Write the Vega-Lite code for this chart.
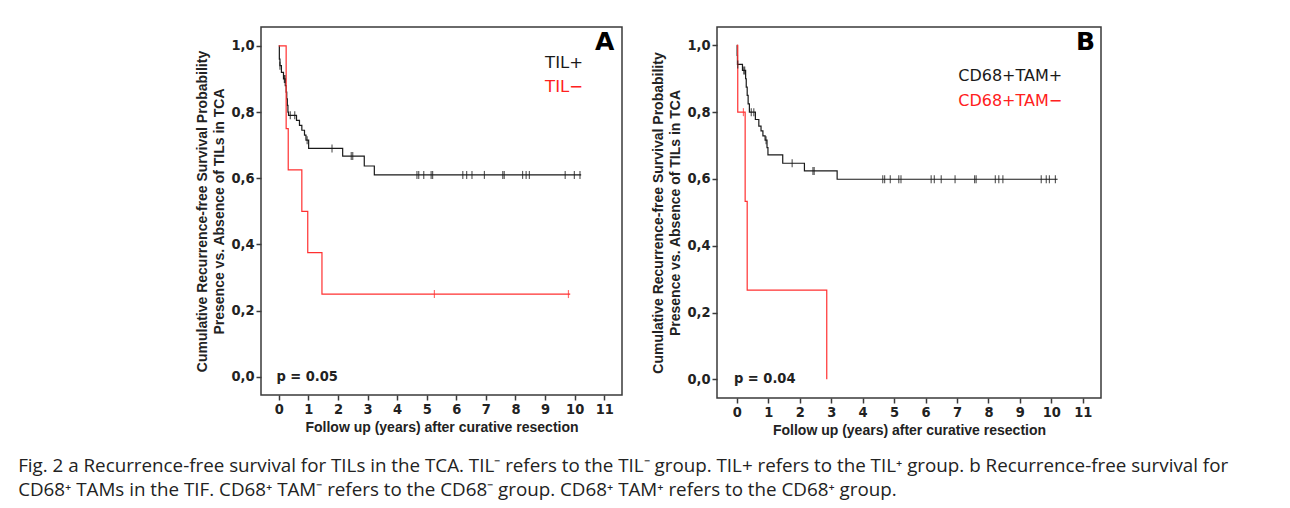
{
  "$schema": "https://vega.github.io/schema/vega-lite/v6.json",
  "background": "white",
  "padding": {"left": 18, "top": 26, "right": 0, "bottom": 0},
  "spacing": 28,
  "title": {
    "text": [
      "Fig. 2 a Recurrence-free survival for TILs in the TCA. TIL⁻ refers to the TIL⁻ group. TIL+ refers to the TIL⁺ group. b Recurrence-free survival for",
      "CD68⁺ TAMs in the TIF. CD68⁺ TAM⁻ refers to the CD68⁻ group. CD68⁺ TAM⁺ refers to the CD68⁺ group."
    ],
    "orient": "bottom",
    "anchor": "start",
    "frame": "bounds",
    "font": "Open Sans",
    "fontSize": 18.8,
    "fontWeight": "normal",
    "color": "#222222",
    "lineHeight": 24,
    "offset": 19,
    "dx": -177
  },
  "datasets": {
    "a_curve": [
      {"group": "TIL+", "t": 0, "s": 1.0},
      {"group": "TIL+", "t": 0.02, "s": 0.96},
      {"group": "TIL+", "t": 0.04, "s": 0.94},
      {"group": "TIL+", "t": 0.09, "s": 0.92},
      {"group": "TIL+", "t": 0.16, "s": 0.9},
      {"group": "TIL+", "t": 0.22, "s": 0.88},
      {"group": "TIL+", "t": 0.25, "s": 0.86},
      {"group": "TIL+", "t": 0.27, "s": 0.84},
      {"group": "TIL+", "t": 0.29, "s": 0.82},
      {"group": "TIL+", "t": 0.31, "s": 0.8},
      {"group": "TIL+", "t": 0.33, "s": 0.79},
      {"group": "TIL+", "t": 0.6, "s": 0.775},
      {"group": "TIL+", "t": 0.7, "s": 0.76},
      {"group": "TIL+", "t": 0.78, "s": 0.745},
      {"group": "TIL+", "t": 0.87, "s": 0.73},
      {"group": "TIL+", "t": 0.92, "s": 0.715},
      {"group": "TIL+", "t": 1.01, "s": 0.69},
      {"group": "TIL+", "t": 2.16, "s": 0.667},
      {"group": "TIL+", "t": 2.89, "s": 0.637},
      {"group": "TIL+", "t": 3.23, "s": 0.61},
      {"group": "TIL+", "t": 10.22, "s": 0.61},
      {"group": "TIL−", "t": 0, "s": 1.0},
      {"group": "TIL−", "t": 0.25, "s": 0.75},
      {"group": "TIL−", "t": 0.32, "s": 0.625},
      {"group": "TIL−", "t": 0.78, "s": 0.5},
      {"group": "TIL−", "t": 0.98, "s": 0.375},
      {"group": "TIL−", "t": 1.46, "s": 0.25},
      {"group": "TIL−", "t": 9.85, "s": 0.25}
    ],
    "a_censor": [
      {"group": "TIL+", "t": 0.04, "s": 0.94},
      {"group": "TIL+", "t": 0.19, "s": 0.9},
      {"group": "TIL+", "t": 0.21, "s": 0.9},
      {"group": "TIL+", "t": 0.39, "s": 0.79},
      {"group": "TIL+", "t": 0.54, "s": 0.79},
      {"group": "TIL+", "t": 0.96, "s": 0.715},
      {"group": "TIL+", "t": 1.8, "s": 0.69},
      {"group": "TIL+", "t": 2.45, "s": 0.667},
      {"group": "TIL+", "t": 2.5, "s": 0.667},
      {"group": "TIL+", "t": 4.67, "s": 0.61},
      {"group": "TIL+", "t": 4.73, "s": 0.61},
      {"group": "TIL+", "t": 4.9, "s": 0.61},
      {"group": "TIL+", "t": 5.15, "s": 0.61},
      {"group": "TIL+", "t": 5.2, "s": 0.61},
      {"group": "TIL+", "t": 6.22, "s": 0.61},
      {"group": "TIL+", "t": 6.35, "s": 0.61},
      {"group": "TIL+", "t": 6.53, "s": 0.61},
      {"group": "TIL+", "t": 6.95, "s": 0.61},
      {"group": "TIL+", "t": 7.57, "s": 0.61},
      {"group": "TIL+", "t": 7.62, "s": 0.61},
      {"group": "TIL+", "t": 8.24, "s": 0.61},
      {"group": "TIL+", "t": 8.36, "s": 0.61},
      {"group": "TIL+", "t": 8.47, "s": 0.61},
      {"group": "TIL+", "t": 9.68, "s": 0.61},
      {"group": "TIL+", "t": 9.99, "s": 0.61},
      {"group": "TIL+", "t": 10.18, "s": 0.61},
      {"group": "TIL−", "t": 5.26, "s": 0.25},
      {"group": "TIL−", "t": 9.79, "s": 0.25}
    ],
    "b_curve": [
      {"group": "CD68+TAM+", "t": 0, "s": 1.0},
      {"group": "CD68+TAM+", "t": 0.01, "s": 0.97},
      {"group": "CD68+TAM+", "t": 0.02, "s": 0.943},
      {"group": "CD68+TAM+", "t": 0.18, "s": 0.925},
      {"group": "CD68+TAM+", "t": 0.28, "s": 0.9},
      {"group": "CD68+TAM+", "t": 0.3, "s": 0.875},
      {"group": "CD68+TAM+", "t": 0.33, "s": 0.85},
      {"group": "CD68+TAM+", "t": 0.36, "s": 0.825},
      {"group": "CD68+TAM+", "t": 0.4, "s": 0.8},
      {"group": "CD68+TAM+", "t": 0.59, "s": 0.778},
      {"group": "CD68+TAM+", "t": 0.7, "s": 0.758},
      {"group": "CD68+TAM+", "t": 0.77, "s": 0.744},
      {"group": "CD68+TAM+", "t": 0.83, "s": 0.729},
      {"group": "CD68+TAM+", "t": 0.9, "s": 0.716},
      {"group": "CD68+TAM+", "t": 0.96, "s": 0.694},
      {"group": "CD68+TAM+", "t": 0.99, "s": 0.672},
      {"group": "CD68+TAM+", "t": 1.46, "s": 0.647},
      {"group": "CD68+TAM+", "t": 2.15, "s": 0.624},
      {"group": "CD68+TAM+", "t": 3.19, "s": 0.599},
      {"group": "CD68+TAM+", "t": 10.2, "s": 0.599},
      {"group": "CD68+TAM−", "t": 0, "s": 1.0},
      {"group": "CD68+TAM−", "t": 0.03, "s": 0.8},
      {"group": "CD68+TAM−", "t": 0.265, "s": 0.533},
      {"group": "CD68+TAM−", "t": 0.33, "s": 0.267},
      {"group": "CD68+TAM−", "t": 2.86, "s": 0.0}
    ],
    "b_censor": [
      {"group": "CD68+TAM+", "t": 0.03, "s": 0.943},
      {"group": "CD68+TAM+", "t": 0.22, "s": 0.925},
      {"group": "CD68+TAM+", "t": 0.25, "s": 0.925},
      {"group": "CD68+TAM+", "t": 0.46, "s": 0.8},
      {"group": "CD68+TAM+", "t": 0.54, "s": 0.8},
      {"group": "CD68+TAM+", "t": 0.93, "s": 0.716},
      {"group": "CD68+TAM+", "t": 1.76, "s": 0.647},
      {"group": "CD68+TAM+", "t": 2.42, "s": 0.624},
      {"group": "CD68+TAM+", "t": 2.46, "s": 0.624},
      {"group": "CD68+TAM+", "t": 4.64, "s": 0.599},
      {"group": "CD68+TAM+", "t": 4.7, "s": 0.599},
      {"group": "CD68+TAM+", "t": 4.88, "s": 0.599},
      {"group": "CD68+TAM+", "t": 5.15, "s": 0.599},
      {"group": "CD68+TAM+", "t": 5.22, "s": 0.599},
      {"group": "CD68+TAM+", "t": 6.18, "s": 0.599},
      {"group": "CD68+TAM+", "t": 6.28, "s": 0.599},
      {"group": "CD68+TAM+", "t": 6.5, "s": 0.599},
      {"group": "CD68+TAM+", "t": 6.94, "s": 0.599},
      {"group": "CD68+TAM+", "t": 7.56, "s": 0.599},
      {"group": "CD68+TAM+", "t": 7.61, "s": 0.599},
      {"group": "CD68+TAM+", "t": 8.22, "s": 0.599},
      {"group": "CD68+TAM+", "t": 8.33, "s": 0.599},
      {"group": "CD68+TAM+", "t": 8.46, "s": 0.599},
      {"group": "CD68+TAM+", "t": 9.68, "s": 0.599},
      {"group": "CD68+TAM+", "t": 9.84, "s": 0.599},
      {"group": "CD68+TAM+", "t": 9.94, "s": 0.599},
      {"group": "CD68+TAM+", "t": 10.13, "s": 0.599},
      {"group": "CD68+TAM−", "t": 0.21, "s": 0.8}
    ]
  },
  "resolve": {"scale": {"color": "independent"}},
  "hconcat": [
    {
      "width": 361,
      "height": 368,
      "layer": [
        {
          "data": {"name": "a_curve"},
          "mark": {"type": "line", "interpolate": "step-after", "strokeWidth": 1.2},
          "encoding": {
            "x": {"field": "t", "type": "quantitative", "scale": {"domain": [-0.6, 11.6], "nice": false, "zero": false},
                  "axis": {"values": [0, 1, 2, 3, 4, 5, 6, 7, 8, 9, 10, 11], "title": "Follow up (years) after curative resection"}},
            "y": {"field": "s", "type": "quantitative", "scale": {"domain": [-0.055, 1.057], "nice": false, "zero": false},
                  "axis": {"values": [0, 0.2, 0.4, 0.6, 0.8, 1.0], "labelExpr": "replace(format(datum.value, '.1f'), '.', ',')",
                           "title": ["Cumulative Recurrence-free Survival Probability", "Presence vs. Absence of TILs in TCA"]}},
            "color": {"field": "group", "type": "nominal", "scale": {"domain": ["TIL+", "TIL−"], "range": ["#1a1a1a", "#ff3030"]}, "legend": null}
          }
        },
        {
          "data": {"name": "a_censor"},
          "mark": {"type": "tick", "orient": "vertical", "size": 8, "thickness": 1.2},
          "encoding": {
            "x": {"field": "t", "type": "quantitative",
                  "axis": {"values": [0, 1, 2, 3, 4, 5, 6, 7, 8, 9, 10, 11], "title": "Follow up (years) after curative resection"}},
            "y": {"field": "s", "type": "quantitative",
                  "axis": {"values": [0, 0.2, 0.4, 0.6, 0.8, 1.0], "labelExpr": "replace(format(datum.value, '.1f'), '.', ',')",
                           "title": ["Cumulative Recurrence-free Survival Probability", "Presence vs. Absence of TILs in TCA"]}},
            "color": {"field": "group", "type": "nominal", "scale": {"domain": ["TIL+", "TIL−"], "range": ["#1a1a1a", "#ff3030"]}, "legend": null}
          }
        },
        {
          "data": {"values": [{"label": "TIL+"}, {"label": "TIL−"}, {"label": "A"}, {"label": "p = 0.05"}]},
          "transform": [{"filter": "datum.label === 'TIL+'"}],
          "mark": {"type": "text", "align": "left", "baseline": "middle", "font": "DejaVu Sans", "fontSize": 16.5, "color": "#1a1a1a"},
          "encoding": {
            "text": {"field": "label"},
            "x": {"datum": 9.0, "type": "quantitative", "axis": {"values": [0, 1, 2, 3, 4, 5, 6, 7, 8, 9, 10, 11], "title": "Follow up (years) after curative resection"}},
            "y": {"datum": 0.949, "type": "quantitative", "axis": {"values": [0, 0.2, 0.4, 0.6, 0.8, 1.0], "labelExpr": "replace(format(datum.value, '.1f'), '.', ',')", "title": ["Cumulative Recurrence-free Survival Probability", "Presence vs. Absence of TILs in TCA"]}}
          }
        },
        {
          "data": {"values": [{"label": "TIL−"}]},
          "mark": {"type": "text", "align": "left", "baseline": "middle", "font": "DejaVu Sans", "fontSize": 16.5, "color": "#ff2020"},
          "encoding": {
            "text": {"field": "label"},
            "x": {"datum": 9.0, "type": "quantitative", "axis": {"values": [0, 1, 2, 3, 4, 5, 6, 7, 8, 9, 10, 11], "title": "Follow up (years) after curative resection"}},
            "y": {"datum": 0.876, "type": "quantitative", "axis": {"values": [0, 0.2, 0.4, 0.6, 0.8, 1.0], "labelExpr": "replace(format(datum.value, '.1f'), '.', ',')", "title": ["Cumulative Recurrence-free Survival Probability", "Presence vs. Absence of TILs in TCA"]}}
          }
        },
        {
          "data": {"values": [{"label": "A"}]},
          "mark": {"type": "text", "align": "right", "baseline": "middle", "font": "DejaVu Sans", "fontWeight": "bold", "fontSize": 25, "color": "#000000"},
          "encoding": {
            "text": {"field": "label"},
            "x": {"datum": 11.34, "type": "quantitative", "axis": {"values": [0, 1, 2, 3, 4, 5, 6, 7, 8, 9, 10, 11], "title": "Follow up (years) after curative resection"}},
            "y": {"datum": 1.012, "type": "quantitative", "axis": {"values": [0, 0.2, 0.4, 0.6, 0.8, 1.0], "labelExpr": "replace(format(datum.value, '.1f'), '.', ',')", "title": ["Cumulative Recurrence-free Survival Probability", "Presence vs. Absence of TILs in TCA"]}}
          }
        },
        {
          "data": {"values": [{"label": "p = 0.05"}]},
          "mark": {"type": "text", "align": "left", "baseline": "middle", "font": "DejaVu Sans Condensed", "fontWeight": "bold", "fontSize": 14.5, "color": "#222222"},
          "encoding": {
            "text": {"field": "label"},
            "x": {"datum": -0.08, "type": "quantitative", "axis": {"values": [0, 1, 2, 3, 4, 5, 6, 7, 8, 9, 10, 11], "title": "Follow up (years) after curative resection"}},
            "y": {"datum": 0.0, "type": "quantitative", "axis": {"values": [0, 0.2, 0.4, 0.6, 0.8, 1.0], "labelExpr": "replace(format(datum.value, '.1f'), '.', ',')", "title": ["Cumulative Recurrence-free Survival Probability", "Presence vs. Absence of TILs in TCA"]}}
          }
        }
      ]
    },
    {
      "width": 384,
      "height": 371,
      "layer": [
        {
          "data": {"name": "b_curve"},
          "mark": {"type": "line", "interpolate": "step-after", "strokeWidth": 1.2},
          "encoding": {
            "x": {"field": "t", "type": "quantitative", "scale": {"domain": [-0.63, 11.58], "nice": false, "zero": false},
                  "axis": {"values": [0, 1, 2, 3, 4, 5, 6, 7, 8, 9, 10, 11], "title": "Follow up (years) after curative resection"}},
            "y": {"field": "s", "type": "quantitative", "scale": {"domain": [-0.056, 1.055], "nice": false, "zero": false},
                  "axis": {"values": [0, 0.2, 0.4, 0.6, 0.8, 1.0], "labelExpr": "replace(format(datum.value, '.1f'), '.', ',')",
                           "title": ["Cumulative Recurrence-free Survival Probability", "Presence vs. Absence of TILs in TCA"]}},
            "color": {"field": "group", "type": "nominal", "scale": {"domain": ["CD68+TAM+", "CD68+TAM−"], "range": ["#1a1a1a", "#ff3030"]}, "legend": null}
          }
        },
        {
          "data": {"name": "b_censor"},
          "mark": {"type": "tick", "orient": "vertical", "size": 8, "thickness": 1.2},
          "encoding": {
            "x": {"field": "t", "type": "quantitative",
                  "axis": {"values": [0, 1, 2, 3, 4, 5, 6, 7, 8, 9, 10, 11], "title": "Follow up (years) after curative resection"}},
            "y": {"field": "s", "type": "quantitative",
                  "axis": {"values": [0, 0.2, 0.4, 0.6, 0.8, 1.0], "labelExpr": "replace(format(datum.value, '.1f'), '.', ',')",
                           "title": ["Cumulative Recurrence-free Survival Probability", "Presence vs. Absence of TILs in TCA"]}},
            "color": {"field": "group", "type": "nominal", "scale": {"domain": ["CD68+TAM+", "CD68+TAM−"], "range": ["#1a1a1a", "#ff3030"]}, "legend": null}
          }
        },
        {
          "data": {"values": [{"label": "CD68+TAM+"}]},
          "mark": {"type": "text", "align": "left", "baseline": "middle", "font": "DejaVu Sans", "fontSize": 16, "color": "#1a1a1a"},
          "encoding": {
            "text": {"field": "label"},
            "x": {"datum": 7.04, "type": "quantitative", "axis": {"values": [0, 1, 2, 3, 4, 5, 6, 7, 8, 9, 10, 11], "title": "Follow up (years) after curative resection"}},
            "y": {"datum": 0.908, "type": "quantitative", "axis": {"values": [0, 0.2, 0.4, 0.6, 0.8, 1.0], "labelExpr": "replace(format(datum.value, '.1f'), '.', ',')", "title": ["Cumulative Recurrence-free Survival Probability", "Presence vs. Absence of TILs in TCA"]}}
          }
        },
        {
          "data": {"values": [{"label": "CD68+TAM−"}]},
          "mark": {"type": "text", "align": "left", "baseline": "middle", "font": "DejaVu Sans", "fontSize": 16, "color": "#ff2020"},
          "encoding": {
            "text": {"field": "label"},
            "x": {"datum": 7.04, "type": "quantitative", "axis": {"values": [0, 1, 2, 3, 4, 5, 6, 7, 8, 9, 10, 11], "title": "Follow up (years) after curative resection"}},
            "y": {"datum": 0.833, "type": "quantitative", "axis": {"values": [0, 0.2, 0.4, 0.6, 0.8, 1.0], "labelExpr": "replace(format(datum.value, '.1f'), '.', ',')", "title": ["Cumulative Recurrence-free Survival Probability", "Presence vs. Absence of TILs in TCA"]}}
          }
        },
        {
          "data": {"values": [{"label": "B"}]},
          "mark": {"type": "text", "align": "right", "baseline": "middle", "font": "DejaVu Sans", "fontWeight": "bold", "fontSize": 25, "color": "#000000"},
          "encoding": {
            "text": {"field": "label"},
            "x": {"datum": 11.39, "type": "quantitative", "axis": {"values": [0, 1, 2, 3, 4, 5, 6, 7, 8, 9, 10, 11], "title": "Follow up (years) after curative resection"}},
            "y": {"datum": 1.01, "type": "quantitative", "axis": {"values": [0, 0.2, 0.4, 0.6, 0.8, 1.0], "labelExpr": "replace(format(datum.value, '.1f'), '.', ',')", "title": ["Cumulative Recurrence-free Survival Probability", "Presence vs. Absence of TILs in TCA"]}}
          }
        },
        {
          "data": {"values": [{"label": "p = 0.04"}]},
          "mark": {"type": "text", "align": "left", "baseline": "middle", "font": "DejaVu Sans Condensed", "fontWeight": "bold", "fontSize": 14.5, "color": "#222222"},
          "encoding": {
            "text": {"field": "label"},
            "x": {"datum": -0.09, "type": "quantitative", "axis": {"values": [0, 1, 2, 3, 4, 5, 6, 7, 8, 9, 10, 11], "title": "Follow up (years) after curative resection"}},
            "y": {"datum": 0.0, "type": "quantitative", "axis": {"values": [0, 0.2, 0.4, 0.6, 0.8, 1.0], "labelExpr": "replace(format(datum.value, '.1f'), '.', ',')", "title": ["Cumulative Recurrence-free Survival Probability", "Presence vs. Absence of TILs in TCA"]}}
          }
        }
      ]
    }
  ],
  "config": {
    "view": {"stroke": "#3a3a3a", "strokeWidth": 1.5},
    "axis": {
      "grid": false, "domain": false, "ticks": true, "tickSize": 5, "tickColor": "#3a3a3a", "tickWidth": 1.5,
      "labelFont": "DejaVu Sans Condensed", "labelFontWeight": "bold", "labelFontSize": 14.5, "labelColor": "#222222",
      "labelPadding": 2, "labelOverlap": false, "labelFlush": false,
      "titleFont": "Liberation Sans", "titleFontWeight": "bold", "titleFontSize": 14, "titleColor": "#222222"
    },
    "axisX": {"titlePadding": 5},
    "axisY": {"titlePadding": 4, "titleLineHeight": 17}
  }
}
